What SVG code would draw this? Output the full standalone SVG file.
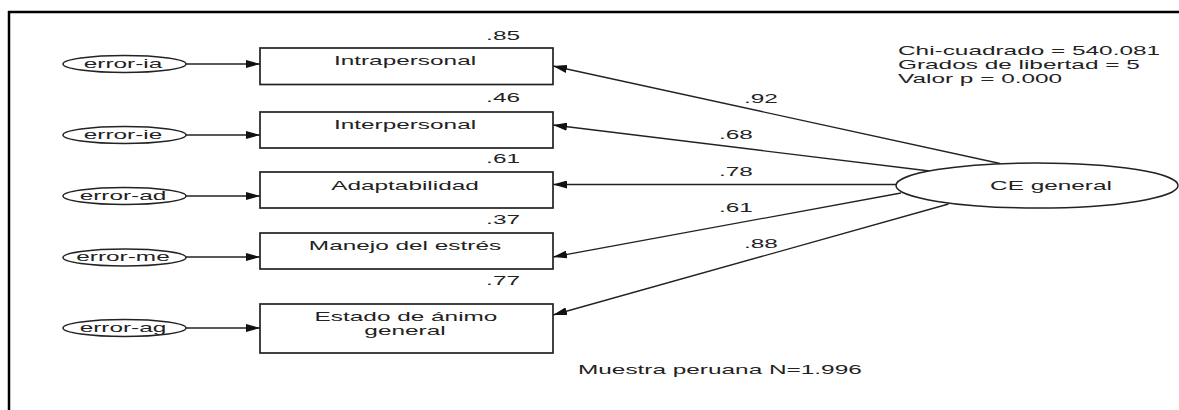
<svg xmlns="http://www.w3.org/2000/svg" width="1179" height="410" viewBox="0 0 1179 410">
<style>
  text { font-family: "Liberation Sans", Arial, sans-serif; font-size: 12.5px; fill: #222; }
  .box { fill: #fff; stroke: #222; stroke-width: 1.7; }
  .ell { fill: #fff; stroke: #222; stroke-width: 1.5; }
  .conn { stroke: #222; stroke-width: 1.3; fill: none; marker-end: url(#arrow); }
  .frame { stroke: #000; fill: none; }
  .mid { text-anchor: middle; }
  .end { text-anchor: end; }
</style>
<defs>
  <marker id="arrow" markerUnits="userSpaceOnUse" markerWidth="14" markerHeight="8" refX="14" refY="4" orient="auto">
    <path d="M0,0 L14,4 L0,8 Z" fill="#111"/>
  </marker>
</defs>
<rect width="1179" height="410" fill="#fff"/>
<g id="frame">
  <line class="frame" x1="8" y1="12" x2="1179" y2="12" stroke-width="2.5"/>
  <line class="frame" x1="9" y1="11" x2="9" y2="410" stroke-width="2.5"/>
</g>
<g id="connectors">
  <line class="conn" x1="186" y1="64" x2="260" y2="64"/>
  <line class="conn" x1="186" y1="135" x2="260" y2="135"/>
  <line class="conn" x1="186" y1="196" x2="260" y2="196"/>
  <line class="conn" x1="186" y1="257" x2="260" y2="257"/>
  <line class="conn" x1="186" y1="328" x2="260" y2="328"/>
  <line class="conn" x1="1000" y1="163.5" x2="553" y2="66"/>
  <line class="conn" x1="929.5" y1="171" x2="553" y2="125"/>
  <line class="conn" x1="896" y1="184.5" x2="553" y2="184.5"/>
  <line class="conn" x1="901" y1="193" x2="553" y2="257"/>
  <line class="conn" x1="948.6" y1="204" x2="553" y2="315"/>
</g>
<g id="labels">
  <text class="end" transform="translate(520 40) scale(1.95 1)">.85</text>
  <text class="end" transform="translate(520 102) scale(1.95 1)">.46</text>
  <text class="end" transform="translate(520 163) scale(1.95 1)">.61</text>
  <text class="end" transform="translate(520 224) scale(1.95 1)">.37</text>
  <text class="end" transform="translate(520 285) scale(1.95 1)">.77</text>
  <text transform="translate(744 103) scale(1.95 1)">.92</text>
  <text transform="translate(719 139) scale(1.95 1)">.68</text>
  <text transform="translate(719 176) scale(1.95 1)">.78</text>
  <text transform="translate(719 212) scale(1.95 1)">.61</text>
  <text transform="translate(744 248) scale(1.95 1)">.88</text>
</g>
<g id="error-ia">
  <ellipse class="ell" cx="124.5" cy="64" rx="61.5" ry="8.5"/>
  <text class="mid" transform="translate(123 67.5) scale(1.95 1)">error-ia</text>
</g>
<g id="error-ie">
  <ellipse class="ell" cx="124.5" cy="135" rx="61.5" ry="8.5"/>
  <text class="mid" transform="translate(123 138.5) scale(1.95 1)">error-ie</text>
</g>
<g id="error-ad">
  <ellipse class="ell" cx="124.5" cy="196" rx="61.5" ry="8.5"/>
  <text class="mid" transform="translate(123 199.5) scale(1.95 1)">error-ad</text>
</g>
<g id="error-me">
  <ellipse class="ell" cx="124.5" cy="257.5" rx="61.5" ry="8.5"/>
  <text class="mid" transform="translate(123 261) scale(1.95 1)">error-me</text>
</g>
<g id="error-ag">
  <ellipse class="ell" cx="124.5" cy="328" rx="61.5" ry="8.5"/>
  <text class="mid" transform="translate(123 331.5) scale(1.95 1)">error-ag</text>
</g>
<g id="intrapersonal">
  <rect class="box" x="260" y="48" width="293" height="36.5"/>
  <text class="mid" transform="translate(405 65) scale(1.95 1)">Intrapersonal</text>
</g>
<g id="interpersonal">
  <rect class="box" x="260" y="112" width="293" height="36"/>
  <text class="mid" transform="translate(405 129) scale(1.95 1)">Interpersonal</text>
</g>
<g id="adaptabilidad">
  <rect class="box" x="260" y="172" width="293" height="36"/>
  <text class="mid" transform="translate(405 189.5) scale(1.95 1)">Adaptabilidad</text>
</g>
<g id="manejo">
  <rect class="box" x="260" y="233" width="293" height="36"/>
  <text class="mid" transform="translate(405 249.5) scale(1.95 1)">Manejo del estrés</text>
</g>
<g id="estado">
  <rect class="box" x="260" y="304" width="293" height="49"/>
  <text class="mid" transform="translate(406 321) scale(1.95 1)">Estado de ánimo</text>
  <text class="mid" transform="translate(405 334.5) scale(1.95 1)">general</text>
</g>
<g id="ce-general">
  <ellipse class="ell" cx="1037" cy="185.5" rx="141" ry="22.5"/>
  <text class="mid" transform="translate(1051 189.5) scale(1.95 1)">CE general</text>
</g>
<g id="stats">
  <text transform="translate(898 55) scale(1.95 1)">Chi-cuadrado = 540.081</text>
  <text transform="translate(898 69) scale(1.95 1)">Grados de libertad = 5</text>
  <text transform="translate(898 83) scale(1.95 1)">Valor p = 0.000</text>
</g>
<g id="sample">
  <text transform="translate(578 374) scale(1.95 1)">Muestra peruana N=1.996</text>
</g>
</svg>
